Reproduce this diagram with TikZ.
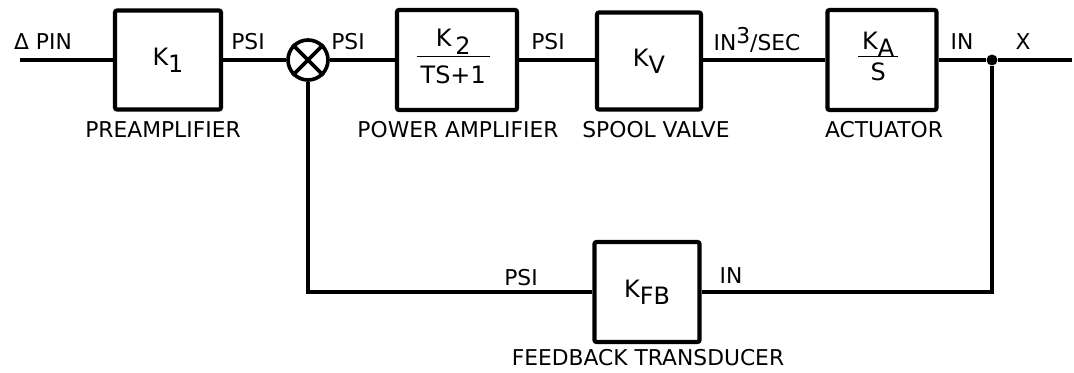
\documentclass[tikz,border=0pt]{standalone}
\usepackage{fontspec}
\setmainfont{DejaVu Sans}
\usetikzlibrary{positioning}
\newcommand{\lowr}[1]{\raisebox{-0.55ex}{#1}}
\newcommand{\highr}[1]{\raisebox{0.6ex}{#1}}

\begin{document}
\begin{tikzpicture}[
  x=0.025cm, y=-0.025cm,
  every node/.style={font=\fontsize{15.5}{17}\selectfont},
  block/.style={
    draw, line width=3pt, rounded corners=1.5pt,
    align=center, inner sep=0pt, font=\fontsize{17}{19}\selectfont
  },
  sumpt/.style={draw, circle, line width=2.6pt, minimum size=40*0.025cm, inner sep=0pt},
  junction/.style={circle, fill, minimum size=11*0.025cm, inner sep=0pt},
  sig/.style={line width=2.2pt},
  tag/.style={inner sep=1pt}
]
\useasboundingbox (0,0) rectangle (1074,373);

% Forward path
\coordinate (in) at (20,60);
\node[block, minimum width=106*0.025cm, minimum height=99*0.025cm] (k1) at (168,60) {K\lowr{1}};
\node[sumpt] (sum) at (308,60) {};
\node[block, minimum width=120*0.025cm, minimum height=100*0.025cm] (k2) at (457,60) {
  \begin{tabular}{@{\,}c@{\,}}K\,\lowr{2}\\[1pt]\hline\rule{0pt}{19pt}TS+1\end{tabular}
};
\node[block, minimum width=104*0.025cm, minimum height=97*0.025cm] (kv) at (649,61) {K\lowr{V}};
\node[block, minimum width=109*0.025cm, minimum height=100*0.025cm] (ka) at (882,60) {
  \rule{0pt}{12pt}\begin{tabular}{@{\,}c@{\,}}K\lowr{A}\\[-1pt]\hline\rule{0pt}{17pt}S\end{tabular}
};
\node[junction] (dot) at (992,60) {};
\coordinate (out) at (1072,60);

% Feedback path
\node[block, minimum width=105*0.025cm, minimum height=100*0.025cm] (kfb) at (647,292) {K\lowr{FB}};

% Cross in the summing point
\draw[line width=2.6pt] (sum.north west) -- (sum.south east);
\draw[line width=2.6pt] (sum.north east) -- (sum.south west);

% Signal labels
\node[tag] (lin) at (43,42) {Δ PIN};
\node[tag] (lpsi1) at (248,42) {PSI};
\node[tag] (lpsi2) at (348,42) {PSI};
\node[tag] (lpsi3) at (548,42) {PSI};
\node[tag] (lflow) at (757,40) {IN\highr{3}/SEC};
\node[tag] (lin2) at (962,42) {IN};
\node[tag] (lx) at (1023,42) {X};
\node[tag] (lpsi4) at (521,278) {PSI};
\node[tag] (lin3) at (731,276) {IN};

% Block names
\node[tag] (npre) at (163,130) {PREAMPLIFIER};
\node[tag] (npow) at (458,130) {POWER AMPLIFIER};
\node[tag] (nspo) at (656,130) {SPOOL VALVE};
\node[tag] (nact) at (884,130) {ACTUATOR};
\node[tag] (nfb) at (648,358) {FEEDBACK TRANSDUCER};

% Connectors
\draw[sig] (in) -- (k1);
\draw[sig] (k1) -- (sum);
\draw[sig] (sum) -- (k2);
\draw[sig] (k2) -- (k2.east -| kv.west);
\draw[sig] (k2.east -| kv.east) -- (k2.east -| ka.west);
\draw[sig] (ka) -- (dot) -- (out);
\draw[sig] (dot) |- (kfb);
\draw[sig] (kfb) -| (sum);
\end{tikzpicture}
\end{document}
